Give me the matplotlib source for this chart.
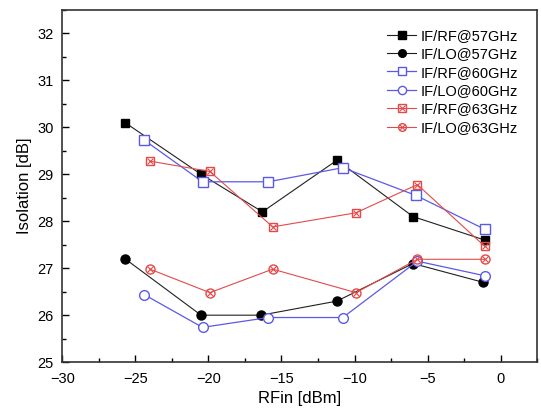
import matplotlib
matplotlib.use('Agg')
import matplotlib.pyplot as plt
from matplotlib.ticker import MultipleLocator
from matplotlib.legend_handler import HandlerTuple

plt.rcParams['font.family'] = ['Liberation Sans', 'DejaVu Sans']

# data
rf57_x = [-25.7, -20.5, -16.3, -11.2, -6.0, -1.1]
rf57_y = [30.1, 29.0, 28.2, 29.3, 28.1, 27.6]
lo57_x = [-25.7, -20.5, -16.4, -11.2, -6.0, -1.2]
lo57_y = [27.2, 26.0, 26.0, 26.3, 27.1, 26.7]
rf60_x = [-24.4, -20.4, -15.9, -10.8, -5.8, -1.1]
rf60_y = [29.73, 28.84, 28.84, 29.14, 28.55, 27.83]
lo60_x = [-24.4, -20.4, -15.9, -10.8, -5.7, -1.1]
lo60_y = [26.44, 25.74, 25.95, 25.95, 27.15, 26.84]
rf63_x = [-24.0, -19.9, -15.6, -9.9, -5.7, -1.1]
rf63_y = [29.28, 29.06, 27.88, 28.18, 28.78, 27.47]
lo63_x = [-24.0, -19.9, -15.6, -9.9, -5.7, -1.1]
lo63_y = [26.98, 26.48, 26.98, 26.48, 27.19, 27.19]

blue = '#5a5ae6'
red = '#e34a4a'
black = '#202020'

fig = plt.figure(figsize=(5.41, 4.12), dpi=100)
ax = fig.add_axes([0.115, 0.121, 0.878, 0.855])

h1, = ax.plot(rf57_x, rf57_y, color=black, lw=0.8, marker='s', ms=6, mfc='black', mec='black')
h2, = ax.plot(lo57_x, lo57_y, color=black, lw=0.8, marker='o', ms=6.5, mfc='black', mec='black')
h3, = ax.plot(rf60_x, rf60_y, color=blue, lw=0.9, marker='s', ms=6.5, mfc='white', mec=blue)
h4, = ax.plot(lo60_x, lo60_y, color=blue, lw=0.9, marker='o', ms=7, mfc='white', mec=blue)
h5, = ax.plot(rf63_x, rf63_y, color=red, lw=0.8, marker='s', ms=6, mfc='none', mec=red)
h5x, = ax.plot(rf63_x, rf63_y, ls='none', marker='x', ms=5, mec=red, mew=0.8)
h6, = ax.plot(lo63_x, lo63_y, color=red, lw=0.8, marker='o', ms=6.5, mfc='none', mec=red)
h6x, = ax.plot(lo63_x, lo63_y, ls='none', marker='x', ms=4.5, mec=red, mew=0.8)

ax.set_xlim(-30, 2.5)
ax.set_ylim(25, 32.5)
ax.xaxis.set_major_locator(MultipleLocator(5))
ax.xaxis.set_minor_locator(MultipleLocator(2.5))
ax.yaxis.set_major_locator(MultipleLocator(1))
ax.yaxis.set_minor_locator(MultipleLocator(0.5))
ax.tick_params(which='both', direction='in', top=False, right=False, labelsize=10.5)
ax.tick_params(axis='x', pad=7)
ax.tick_params(axis='y', pad=6)
ax.tick_params(which='major', length=5, width=1)
ax.tick_params(which='minor', length=3, width=1)
for s in ax.spines.values():
    s.set_linewidth(1.2)
    s.set_color('#333333')

ax.set_xlabel('RFin [dBm]', fontsize=12)
ax.set_ylabel('Isolation [dB]', fontsize=12)

ax.legend([h1, h2, h3, h4, (h5, h5x), (h6, h6x)],
          ['IF/RF@57GHz', 'IF/LO@57GHz', 'IF/RF@60GHz', 'IF/LO@60GHz', 'IF/RF@63GHz', 'IF/LO@63GHz'],
          handler_map={tuple: HandlerTuple(ndivide=1, pad=0)},
          loc='upper right', frameon=False, fontsize=10.5, handlelength=2.0,
          handletextpad=0.3, labelspacing=0.3, borderaxespad=0.9, markerscale=0.85)

fig.savefig('out.png', dpi=100)
